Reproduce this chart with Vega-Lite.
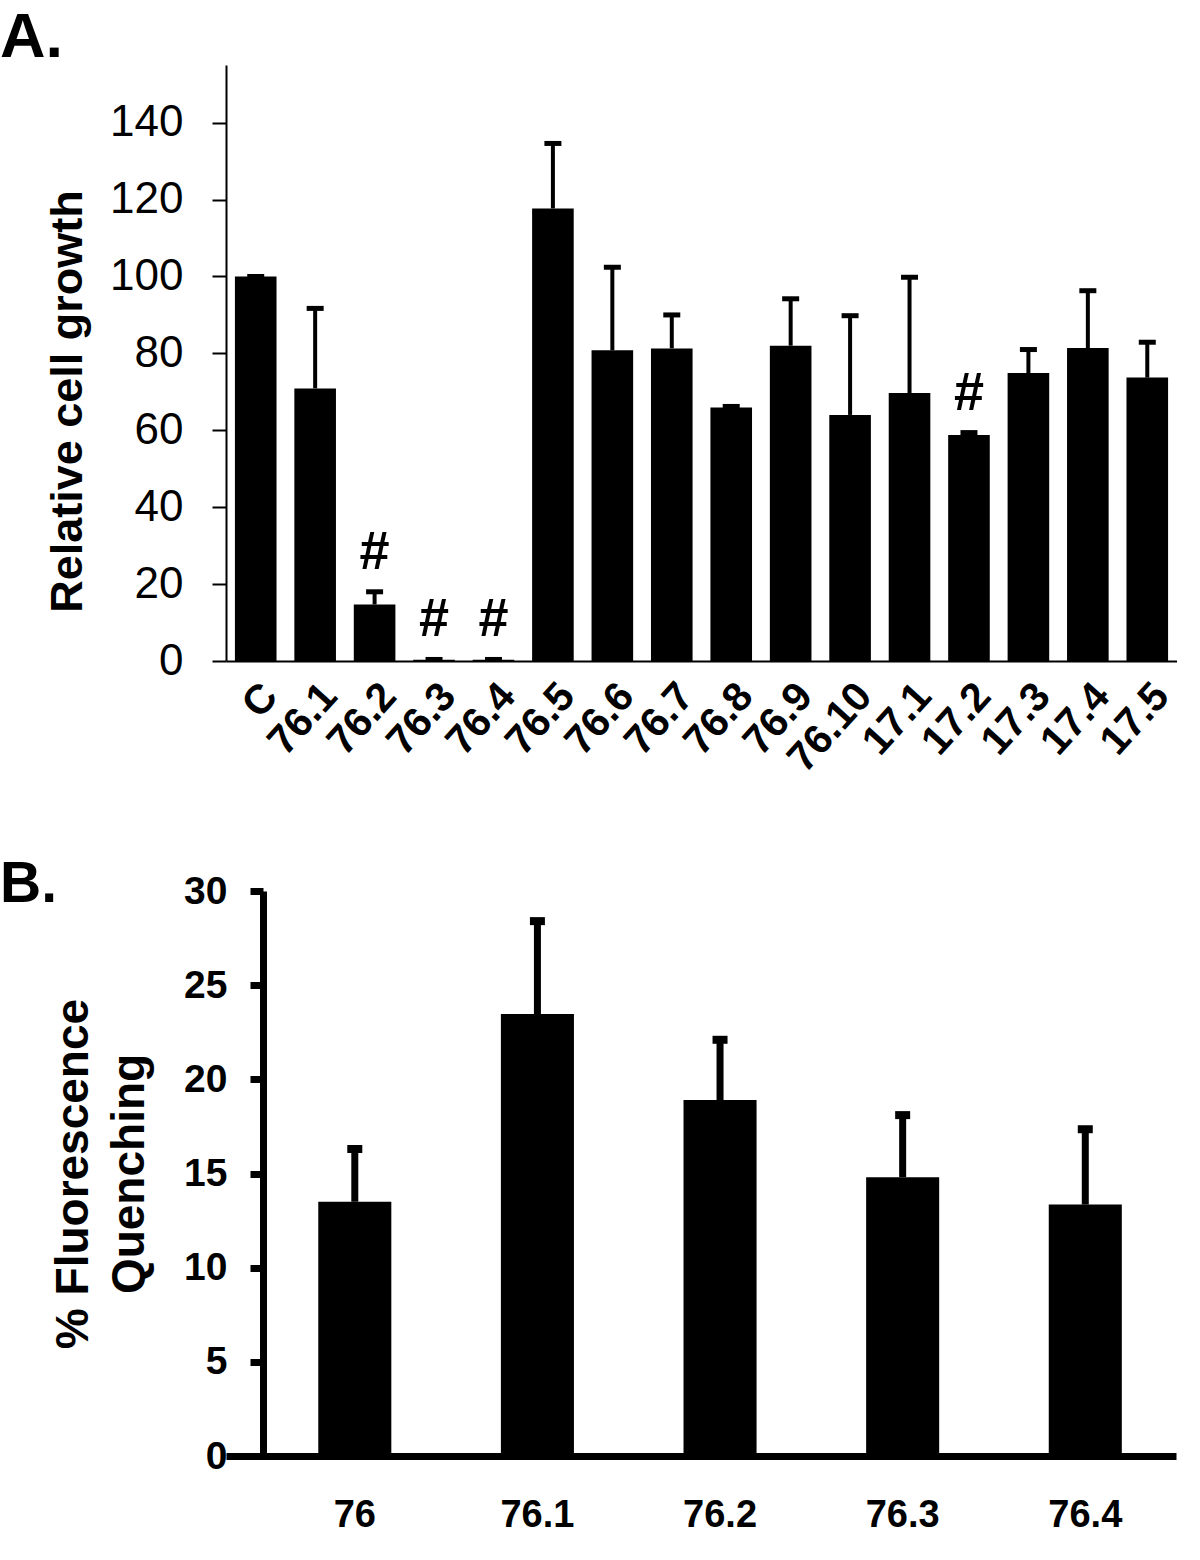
{
  "$schema": "https://vega.github.io/schema/vega-lite/v6.json",
  "padding": {"top": 7, "left": 0, "right": 0, "bottom": 0},
  "background": "white",
  "spacing": 76,
  "config": {
    "view": {"stroke": null},
    "axis": {"grid": false, "labelFont": "Liberation Sans", "titleFont": "Liberation Sans", "domainColor": "black", "tickColor": "black", "labelColor": "black", "titleColor": "black"},
    "title": {"font": "Liberation Sans", "fontWeight": "bold", "color": "black"}
  },
  "vconcat": [
    {
      "title": {"text": "A.", "anchor": "start", "frame": "group", "fontSize": 63, "dx": -226, "offset": -55, "baseline": "alphabetic"},
      "width": 951,
      "height": 596,
      "data": {"values": [
        {"g": "C", "m": 100, "u": 100, "sig": ""},
        {"g": "76.1", "m": 70.9, "u": 91.7, "sig": ""},
        {"g": "76.2", "m": 14.7, "u": 18.0, "sig": "#"},
        {"g": "76.3", "m": 0.3, "u": 0.4, "sig": "#"},
        {"g": "76.4", "m": 0.3, "u": 0.4, "sig": "#"},
        {"g": "76.5", "m": 117.7, "u": 134.6, "sig": ""},
        {"g": "76.6", "m": 80.8, "u": 102.4, "sig": ""},
        {"g": "76.7", "m": 81.3, "u": 90.0, "sig": ""},
        {"g": "76.8", "m": 65.9, "u": 66.2, "sig": ""},
        {"g": "76.9", "m": 82.0, "u": 94.2, "sig": ""},
        {"g": "76.10", "m": 64.0, "u": 89.8, "sig": ""},
        {"g": "17.1", "m": 69.7, "u": 99.8, "sig": ""},
        {"g": "17.2", "m": 58.8, "u": 59.4, "sig": "#"},
        {"g": "17.3", "m": 74.9, "u": 81.0, "sig": ""},
        {"g": "17.4", "m": 81.4, "u": 96.3, "sig": ""},
        {"g": "17.5", "m": 73.7, "u": 82.9, "sig": ""}
      ]},
      "encoding": {
        "x": {"field": "g", "type": "nominal", "sort": null,
          "scale": {"paddingInner": 0.3, "paddingOuter": 0.15},
          "axis": {"title": null, "labelAngle": -48, "labelAlign": "right", "labelBaseline": "top", "labelFontSize": 41, "labelFontWeight": "bold", "ticks": false, "labelPadding": 15, "domainWidth": 2}}
      },
      "layer": [
        {"mark": {"type": "bar", "color": "black"},
          "encoding": {"y": {"field": "m", "type": "quantitative", "scale": {"domain": [0, 155], "nice": false},
            "axis": {"title": "Relative cell growth", "values": [0, 20, 40, 60, 80, 100, 120, 140], "tickSize": 14, "tickWidth": 2, "domainWidth": 2, "labelFontSize": 44, "labelFontWeight": "normal", "labelPadding": 29, "titleFontSize": 45, "titleFontWeight": "bold", "titlePadding": 19, "titleY": 336}}}},
        {"mark": {"type": "rule", "color": "black", "strokeWidth": 4},
          "encoding": {"y": {"field": "m", "type": "quantitative"}, "y2": {"field": "u"}}},
        {"mark": {"type": "tick", "color": "black", "opacity": 1, "size": 17, "thickness": 5},
          "encoding": {"y": {"field": "u", "type": "quantitative"}}},
        {"mark": {"type": "text", "font": "Liberation Sans", "fontSize": 54, "fontWeight": "bold", "dy": -39, "baseline": "middle", "color": "black"},
          "encoding": {"y": {"field": "u", "type": "quantitative"}, "text": {"field": "sig"}}}
      ]
    },
    {
      "title": {"text": "B.", "anchor": "start", "frame": "group", "fontSize": 57, "dx": -226, "offset": -87, "baseline": "alphabetic"},
      "width": 950,
      "height": 565,
      "data": {"values": [
        {"g": "76", "m": 13.5, "u": 16.3},
        {"g": "76.1", "m": 23.47, "u": 28.4},
        {"g": "76.2", "m": 18.9, "u": 22.1},
        {"g": "76.3", "m": 14.8, "u": 18.1},
        {"g": "76.4", "m": 13.35, "u": 17.35}
      ]},
      "encoding": {
        "x": {"field": "g", "type": "nominal", "sort": null,
          "scale": {"paddingInner": 0.6, "paddingOuter": 0.401, "align": 0.63},
          "axis": {"title": null, "labelAngle": 0, "labelAlign": "center", "labelBaseline": "top", "labelFontSize": 38, "labelFontWeight": "bold", "ticks": false, "labelPadding": 40, "domainWidth": 7}}
      },
      "layer": [
        {"mark": {"type": "bar", "color": "black"},
          "encoding": {"y": {"field": "m", "type": "quantitative", "scale": {"domain": [0, 30], "nice": false},
            "axis": {"title": ["% Fluorescence", "Quenching"], "offset": -37, "values": [0, 5, 10, 15, 20, 25, 30], "tickSize": 13, "tickWidth": 7, "domainWidth": 7, "labelFontSize": 39, "labelFontWeight": "bold", "labelPadding": 23, "titleFontSize": 46, "titleFontWeight": "bold", "titlePadding": 30, "titleLineHeight": 56}}}},
        {"mark": {"type": "rule", "color": "black", "strokeWidth": 7},
          "encoding": {"y": {"field": "m", "type": "quantitative"}, "y2": {"field": "u"}}},
        {"mark": {"type": "tick", "color": "black", "opacity": 1, "size": 15, "thickness": 8},
          "encoding": {"y": {"field": "u", "type": "quantitative"}}}
      ]
    }
  ]
}
